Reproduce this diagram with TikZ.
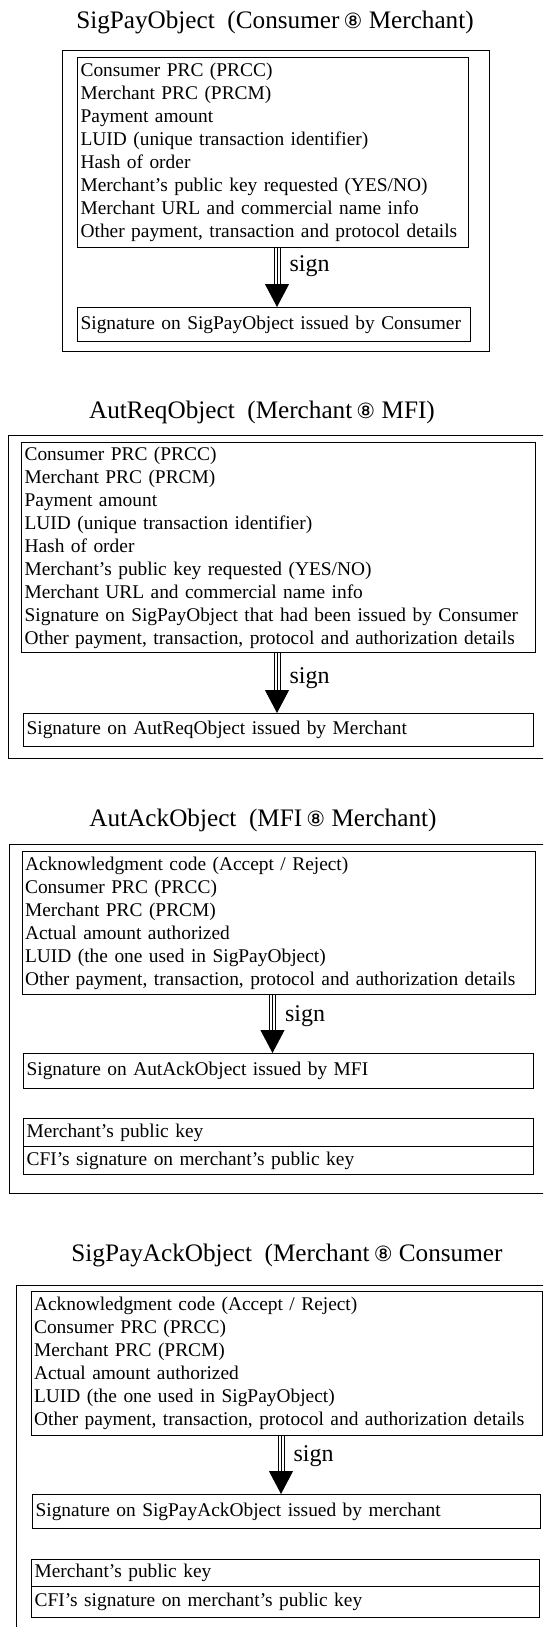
\documentclass[tikz,border=0pt]{standalone}
\usepackage{fontspec}
\setmainfont{Liberation Serif}
\newfontfamily\ringfont{DejaVu Sans}
\usetikzlibrary{arrows.meta}
\hyphenpenalty=10000
\exhyphenpenalty=10000

\tikzset{
  frame/.style={draw, line width=.6pt, anchor=north west, inner sep=0pt},
  field/.style={draw, line width=.6pt, anchor=north west, inner xsep=1.5pt,
    inner ysep=0pt, align=left, font=\fontsize{9.7}{11.5}\selectfont},
  title/.style={font=\fontsize{12.6}{15}\selectfont},
  signlbl/.style={anchor=west, inner sep=0pt, xshift=6pt, font=\fontsize{12}{14}\selectfont},
  shaft/.style={line width=3.5pt, shorten >=10pt, postaction={draw=white, line width=2.5pt}},
  head/.style={line width=.5pt, -{Triangle[width=12pt,length=11.5pt]}}
}
\newcommand{\via}{{\ringfont\fontsize{10.5}{12}\selectfont ⑧}}

\begin{document}
\begin{tikzpicture}[x=.5pt, y=-.5pt]
    \useasboundingbox (0,0) rectangle (543,1627);
    \clip (0,0) rectangle (543,1627);

    % obj1
    \node[title] (t1) at (275,22) {SigPayObject\ \ (Consumer\,\via\ Merchant)};
    \node[frame, minimum width=213.5pt, minimum height=150.5pt] (f1) at (62,50) {};
    \node[field, text width=192.5pt, minimum height=95pt] (list1) at (77,57)
      {Consumer PRC (PRCC)\\
       Merchant PRC (PRCM)\\
       Payment amount\\
       LUID (unique transaction identifier)\\
       Hash of order\\
       Merchant’s public key requested (YES/NO)\\
       Merchant URL and commercial name info\\
       Other payment, transaction and protocol details};
    \node[field, text width=193.5pt, minimum height=17pt] (sig1) at (77,307)
      {Signature on SigPayObject issued by Consumer};

    % obj2
    \node[title] (t2) at (262,412) {AutReqObject\ \ (Merchant\,\via\ MFI)};
    \node[frame, minimum width=276pt, minimum height=161.5pt] (f2) at (8,435) {};
    \node[field, text width=254pt, minimum height=105pt] (list2) at (21,442)
      {Consumer PRC (PRCC)\\
       Merchant PRC (PRCM)\\
       Payment amount\\
       LUID (unique transaction identifier)\\
       Hash of order\\
       Merchant’s public key requested (YES/NO)\\
       Merchant URL and commercial name info\\
       Signature on SigPayObject that had been issued by Consumer\\
       Other payment, transaction, protocol and authorization details};
    \node[field, text width=251.75pt, minimum height=16.5pt] (sig2) at (23,713)
      {Signature on AutReqObject issued by Merchant};

    % obj3
    \node[title] (t3) at (263,820) {AutAckObject\ \ (MFI\,\via\ Merchant)};
    \node[frame, minimum width=275.5pt, minimum height=174.5pt] (f3) at (9,844) {};
    \node[field, text width=253.75pt, minimum height=71.5pt] (list3) at (21.5,851)
      {Acknowledgment code (Accept / Reject)\\
       Consumer PRC (PRCC)\\
       Merchant PRC (PRCM)\\
       Actual amount authorized\\
       LUID (the one used in SigPayObject)\\
       Other payment, transaction, protocol and authorization details};
    \node[field, text width=252pt, minimum height=17.5pt] (sig3) at (23,1053)
      {Signature on AutAckObject issued by MFI};
    \node[field, text width=252pt, minimum height=14pt] (keya3) at (23,1118)
      {Merchant’s public key};
    \node[field, text width=252pt, minimum height=14pt] (keyb3) at (23,1146)
      {CFI’s signature on merchant’s public key};

    % obj4
    \node[title] (t4) at (287,1255) {SigPayAckObject\ \ (Merchant\,\via\ Consumer};
    \node[frame, minimum width=272pt, minimum height=182.5pt] (f4) at (15.5,1285) {};
    \node[field, text width=252.75pt, minimum height=72pt] (list4) at (30.5,1291)
      {Acknowledgment code (Accept / Reject)\\
       Consumer PRC (PRCC)\\
       Merchant PRC (PRCM)\\
       Actual amount authorized\\
       LUID (the one used in SigPayObject)\\
       Other payment, transaction, protocol and authorization details};
    \node[field, text width=251pt, minimum height=17pt] (sig4) at (32,1494)
      {Signature on SigPayAckObject issued by merchant};
    \node[field, text width=251pt, minimum height=13.5pt] (keya4) at (31,1559)
      {Merchant’s public key};
    \node[field, text width=251pt, minimum height=15.5pt] (keyb4) at (31,1586)
      {CFI’s signature on merchant’s public key};

    % sign arrows
    \foreach \i/\x/\p in {1/277/.3, 2/277/.42, 3/272.5/.36, 4/281/.34}
    { \path (\x,0) coordinate (ax\i);
      \draw[shaft] (list\i.south -| ax\i) -- (sig\i.north -| ax\i);
      \draw[head] (list\i.south -| ax\i) -- node[signlbl, pos=\p] (sign\i) {sign} (sig\i.north -| ax\i); }
  \end{tikzpicture}
\end{document}
